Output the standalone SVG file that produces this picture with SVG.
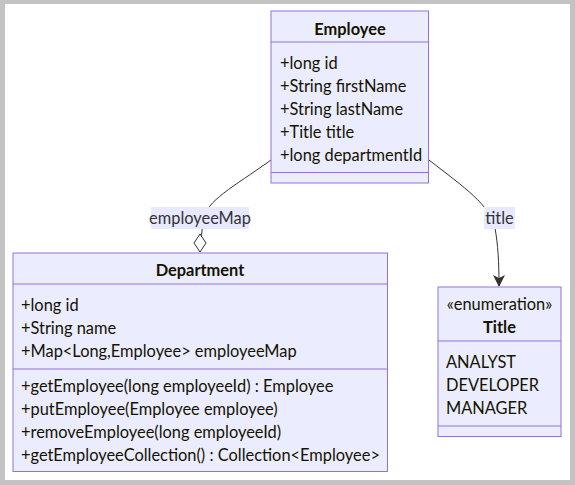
<svg xmlns="http://www.w3.org/2000/svg" width="575" height="485" viewBox="0 0 575 485">
<defs>
<style>
.box{fill:#ECECFF;stroke:#9370DB;stroke-width:1}
.div{stroke:#9370DB;stroke-width:1}
.t{font-family:Lato,"Liberation Sans",sans-serif;font-size:16.4px;fill:#131300}
.b{font-weight:bold}
.m{text-anchor:middle}
.edge{fill:none;stroke:#333;stroke-width:1}
.lbl{fill:#E8E8FF}
.lt{font-family:Lato,"Liberation Sans",sans-serif;font-size:16.4px;fill:#333;text-anchor:middle}
</style>
<marker id="diamond" viewBox="0 0 14 20" refX="7" refY="19" markerWidth="14" markerHeight="20" markerUnits="userSpaceOnUse" orient="0">
<path d="M7,1 L13,10 L7,19 L1,10 Z" fill="#fff" stroke="#333" stroke-width="1"/>
</marker>
<marker id="arrow" viewBox="0 0 12 12" refX="11" refY="6" markerWidth="12" markerHeight="12" markerUnits="userSpaceOnUse" orient="auto">
<path d="M0,0 L12,6 L0,12 L3,6 Z" fill="#333"/>
</marker>
</defs>
<rect x="0" y="0" width="575" height="485" fill="#C3C3C3"/>
<rect x="5" y="4" width="565" height="476" fill="#fff"/>

<g id="connectors">
<path class="edge" d="M271,160 C 232,188 207,200 203,220 L 200,252" marker-end="url(#diamond)"/>
<path class="edge" d="M429,160 C 465,188 490,205 495,228 C 498,245 499,262 499,286" marker-end="url(#arrow)"/>
<rect class="lbl" x="151" y="207" width="98" height="22"/>
<text class="lt" x="200" y="223.5">employeeMap</text>
<rect class="lbl" x="484" y="207" width="31" height="22"/>
<text class="lt" x="499.5" y="223.5">title</text>
</g>

<g id="Employee">
<rect class="box" x="271" y="11" width="157.5" height="172"/>
<line class="div" x1="271" y1="42" x2="428.5" y2="42"/>
<line class="div" x1="271" y1="172.5" x2="428.5" y2="172.5"/>
<text class="t b m" x="350" y="34.5">Employee</text>
<text class="t" x="280" y="68.5">+long id</text>
<text class="t" x="280" y="91.5">+String firstName</text>
<text class="t" x="280" y="114.5">+String lastName</text>
<text class="t" x="280" y="137.5">+Title title</text>
<text class="t" x="280" y="160.5">+long departmentId</text>
</g>

<g id="Department">
<rect class="box" x="13" y="253" width="374.5" height="218.5"/>
<line class="div" x1="13" y1="284" x2="387.5" y2="284"/>
<line class="div" x1="13" y1="369" x2="387.5" y2="369"/>
<text class="t b m" x="200" y="276">Department</text>
<text class="t" x="21" y="310.5">+long id</text>
<text class="t" x="21" y="333.5">+String name</text>
<text class="t" x="21" y="356.5">+Map&lt;Long,Employee&gt; employeeMap</text>
<text class="t" x="21" y="391.5">+getEmployee(long employeeId) : Employee</text>
<text class="t" x="21" y="414.5">+putEmployee(Employee employee)</text>
<text class="t" x="21" y="437.5">+removeEmployee(long employeeId)</text>
<text class="t" x="21" y="460.5">+getEmployeeCollection() : Collection&lt;Employee&gt;</text>
</g>

<g id="Title">
<rect class="box" x="438" y="287" width="123" height="149.5"/>
<line class="div" x1="438" y1="341" x2="561" y2="341"/>
<line class="div" x1="438" y1="426" x2="561" y2="426"/>
<text class="t m" x="499.5" y="309.5">«enumeration»</text>
<text class="t b m" x="499.5" y="332.5">Title</text>
<text class="t" x="446" y="367.5">ANALYST</text>
<text class="t" x="446" y="390.5">DEVELOPER</text>
<text class="t" x="446" y="413.5">MANAGER</text>
</g>
</svg>
